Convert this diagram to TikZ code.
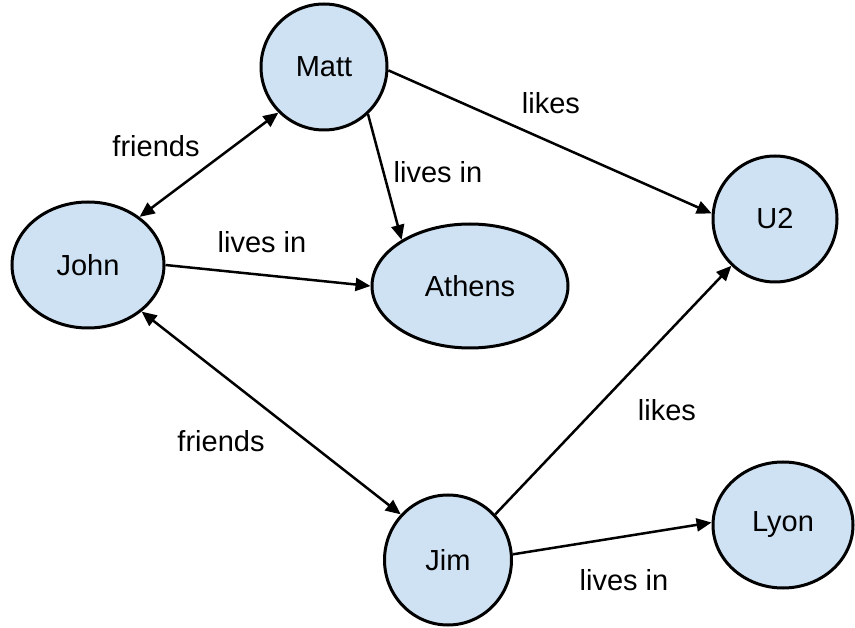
\documentclass[tikz,border=0pt]{standalone}
\usepackage{fontspec}
\setmainfont{Liberation Sans}
\usetikzlibrary{shapes.geometric,arrows.meta}
\definecolor{NodeBlue}{RGB}{207,226,243}
\tikzset{
	place/.style={ellipse,draw=black,fill=NodeBlue,line width=3pt,inner sep=0pt,
		font=\fontsize{29}{34}\selectfont},
	rel/.style={draw=black,line width=2.5pt,-{Triangle[length=15pt,width=13pt]}},
	both/.style={rel,{Triangle[length=15pt,width=13pt]}-{Triangle[length=15pt,width=13pt]}},
	lbl/.style={font=\fontsize{29}{34}\selectfont,inner sep=0pt},
}

\begin{document}
\begin{tikzpicture}[x=1pt,y=-1pt]
	\useasboundingbox (0,0) rectangle (855,628);
	\foreach \name/\px/\py/\w/\h/\txt in {matt/324/67/126/126/Matt,john/88/265/152/126/John,
		athens/470/286/196/124/Athens,u2/775/219/124/126/U2,jim/448/560/127/130/Jim,lyon/783/525/140/126/Lyon}
	\node[place,minimum width=\w pt,minimum height=\h pt] (\name) at (\px,\py) {\txt};
	\draw[both] (john.43) -- (matt.-135);
	\draw[rel] (matt.-47) -- (athens.146);
	\draw[rel] (matt.-3) -- (u2.175);
	\draw[rel] (john.0) -- (athens.180);
	\draw[both] (john.-41) -- (jim.136);
	\draw[rel] (jim.44) -- (u2.-133);
	\draw[rel] (jim.5) -- (lyon.178);
	% edge labels
	\node[lbl] (f1) at (156,146) {friends};
	\node[lbl] (l1) at (438,172) {lives in};
	\node[lbl] (k1) at (551,103) {likes};
	\node[lbl] (l2) at (262,242) {lives in};
	\node[lbl] (f2) at (221,441) {friends};
	\node[lbl] (k2) at (667,410) {likes};
	\node[lbl] (l3) at (624,580) {lives in};
\end{tikzpicture}
\end{document}
